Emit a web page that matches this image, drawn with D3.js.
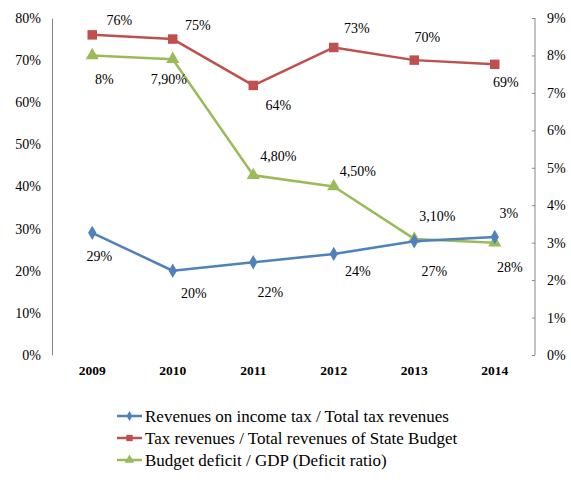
<!DOCTYPE html>
<html>
<head>
<meta charset="utf-8">
<script src="https://cdn.jsdelivr.net/npm/d3@7"></script>
</head>
<body style="margin:0;padding:0;background:#fff">
<script>
// Categories and series
const years = ["2009", "2010", "2011", "2012", "2013", "2014"];
const incomeTaxShare = [29, 20, 22, 24, 27, 28];      // % of total tax revenues (left axis)
const taxRevenueShare = [76, 75, 64, 73, 70, 69];     // % of State Budget revenues (left axis)
const deficitRatio = [8, 7.9, 4.8, 4.5, 3.1, 3.0];    // % of GDP (right axis)
const deficitLabels = ["8%", "7,90%", "4,80%", "4,50%", "3,10%", "3%"];

const leftTicks = [0, 10, 20, 30, 40, 50, 60, 70, 80];
const rightTicks = [0, 1, 2, 3, 4, 5, 6, 7, 8, 9];

const legendNames = [
  "Revenues on income tax / Total tax revenues",
  "Tax revenues / Total revenues of State Budget",
  "Budget deficit / GDP (Deficit ratio)"
];

// Layout
const plot = { left: 52, right: 535, top: 18, bottom: 355 };
const colors = { blue: "#4F81BD", red: "#C0504D", green: "#9BBB59" };
const axisColor = "#868686";
const FONT = "'Liberation Serif', 'Times New Roman', serif";

// Data label placement relative to each point (px)
const offsets = {
  red:   [[27, -15], [25, -14], [25, 20], [23, -19], [13, -23], [11, 18]],
  green: [[12, 24], [-4, 20], [25, -19], [24, -15], [23, -23], [14, -30]],
  blue:  [[7, 23], [21, 22], [17, 30], [24, 17], [20, 30], [15, 30]]
};

const svg = d3.select("body").append("svg")
  .attr("width", 571).attr("height", 489)
  .style("display", "block");

const x = d3.scaleBand().domain(years).range([plot.left, plot.right]);
const yL = d3.scaleLinear().domain([0, 80]).range([plot.bottom, plot.top]);
const yR = d3.scaleLinear().domain([0, 9]).range([plot.bottom, plot.top]);
const cx = d => x(d) + x.bandwidth() / 2;

function textFont(sel, size, bold) {
  sel.attr("font-family", FONT)
    .style("font-family", FONT, "important")
    .style("font-size", size + "px", "important")
    .style("font-weight", bold ? "bold" : "normal", "important")
    .attr("fill", "#000");
}

// Left axis
const leftAxis = d3.axisLeft(yL).tickValues(leftTicks).tickSize(0).tickPadding(11)
  .tickFormat(d => d + "%");
const gL = svg.append("g").attr("transform", `translate(${plot.left},0)`).call(leftAxis);
gL.attr("font-family", FONT);
gL.select(".domain").attr("stroke", axisColor);
gL.selectAll("text").call(textFont, 14);

// Right axis
const rightAxis = d3.axisRight(yR).tickValues(rightTicks).tickSize(-3).tickPadding(12)
  .tickFormat(d => d + "%");
const gR = svg.append("g").attr("transform", `translate(${plot.right},0)`).call(rightAxis);
gR.attr("font-family", FONT);
gR.select(".domain").attr("stroke", axisColor).attr("d", `M0,${plot.top}V${plot.bottom}`);
gR.selectAll("line").attr("stroke", axisColor);
gR.selectAll("text").call(textFont, 14);

// Category labels
const bottomAxis = d3.axisBottom(x).tickSize(0).tickPadding(10);
const gB = svg.append("g").attr("transform", `translate(0,${plot.bottom})`).call(bottomAxis);
gB.attr("font-family", FONT);
gB.select(".domain").remove();
gB.selectAll("text").call(textFont, 13.5, true);

// Marker shapes
const symbols = {
  blue: d3.symbol().type(d3.symbolDiamond).size(60),
  red: d3.symbol().type(d3.symbolSquare).size(90),
  green: d3.symbol().type(d3.symbolTriangle).size(75)
};

function drawSeries(values, yScale, key, labelText) {
  const pts = values.map((v, i) => [cx(years[i]), yScale(v)]);
  svg.append("path")
    .attr("d", d3.line()(pts))
    .attr("fill", "none")
    .attr("stroke", colors[key])
    .attr("stroke-width", 2.5)
    .attr("stroke-linejoin", "round");
  svg.append("g").selectAll("path").data(pts).join("path")
    .attr("transform", d => `translate(${d[0]},${d[1]})`)
    .attr("d", symbols[key]())
    .attr("fill", colors[key]);
  svg.append("g").selectAll("text").data(values).join("text")
    .attr("x", (d, i) => pts[i][0] + offsets[key][i][0])
    .attr("y", (d, i) => pts[i][1] + offsets[key][i][1])
    .attr("text-anchor", "middle")
    .attr("dy", "0.35em")
    .call(textFont, 14)
    .text((d, i) => labelText(d, i));
}

drawSeries(taxRevenueShare, yL, "red", d => d + "%");
drawSeries(deficitRatio, yR, "green", (d, i) => deficitLabels[i]);
drawSeries(incomeTaxShare, yL, "blue", d => d + "%");

// Legend
const legendKeys = ["blue", "red", "green"];
const legendSymbols = { blue: d3.symbolDiamond, red: d3.symbolSquare, green: d3.symbolTriangle };
const lg = svg.append("g");
legendKeys.forEach((k, i) => {
  const ly = 416 + i * 22;
  lg.append("line").attr("x1", 117).attr("x2", 142).attr("y1", ly).attr("y2", ly)
    .attr("stroke", colors[k]).attr("stroke-width", 2.5);
  lg.append("path").attr("transform", `translate(129.5,${ly})`)
    .attr("d", d3.symbol().type(legendSymbols[k]).size(k === "blue" ? 30 : 40)())
    .attr("fill", colors[k]);
  lg.append("text").attr("x", 145).attr("y", ly).attr("dy", "0.35em")
    .call(textFont, 17)
    .text(legendNames[i]);
});
</script>
</body>
</html>
